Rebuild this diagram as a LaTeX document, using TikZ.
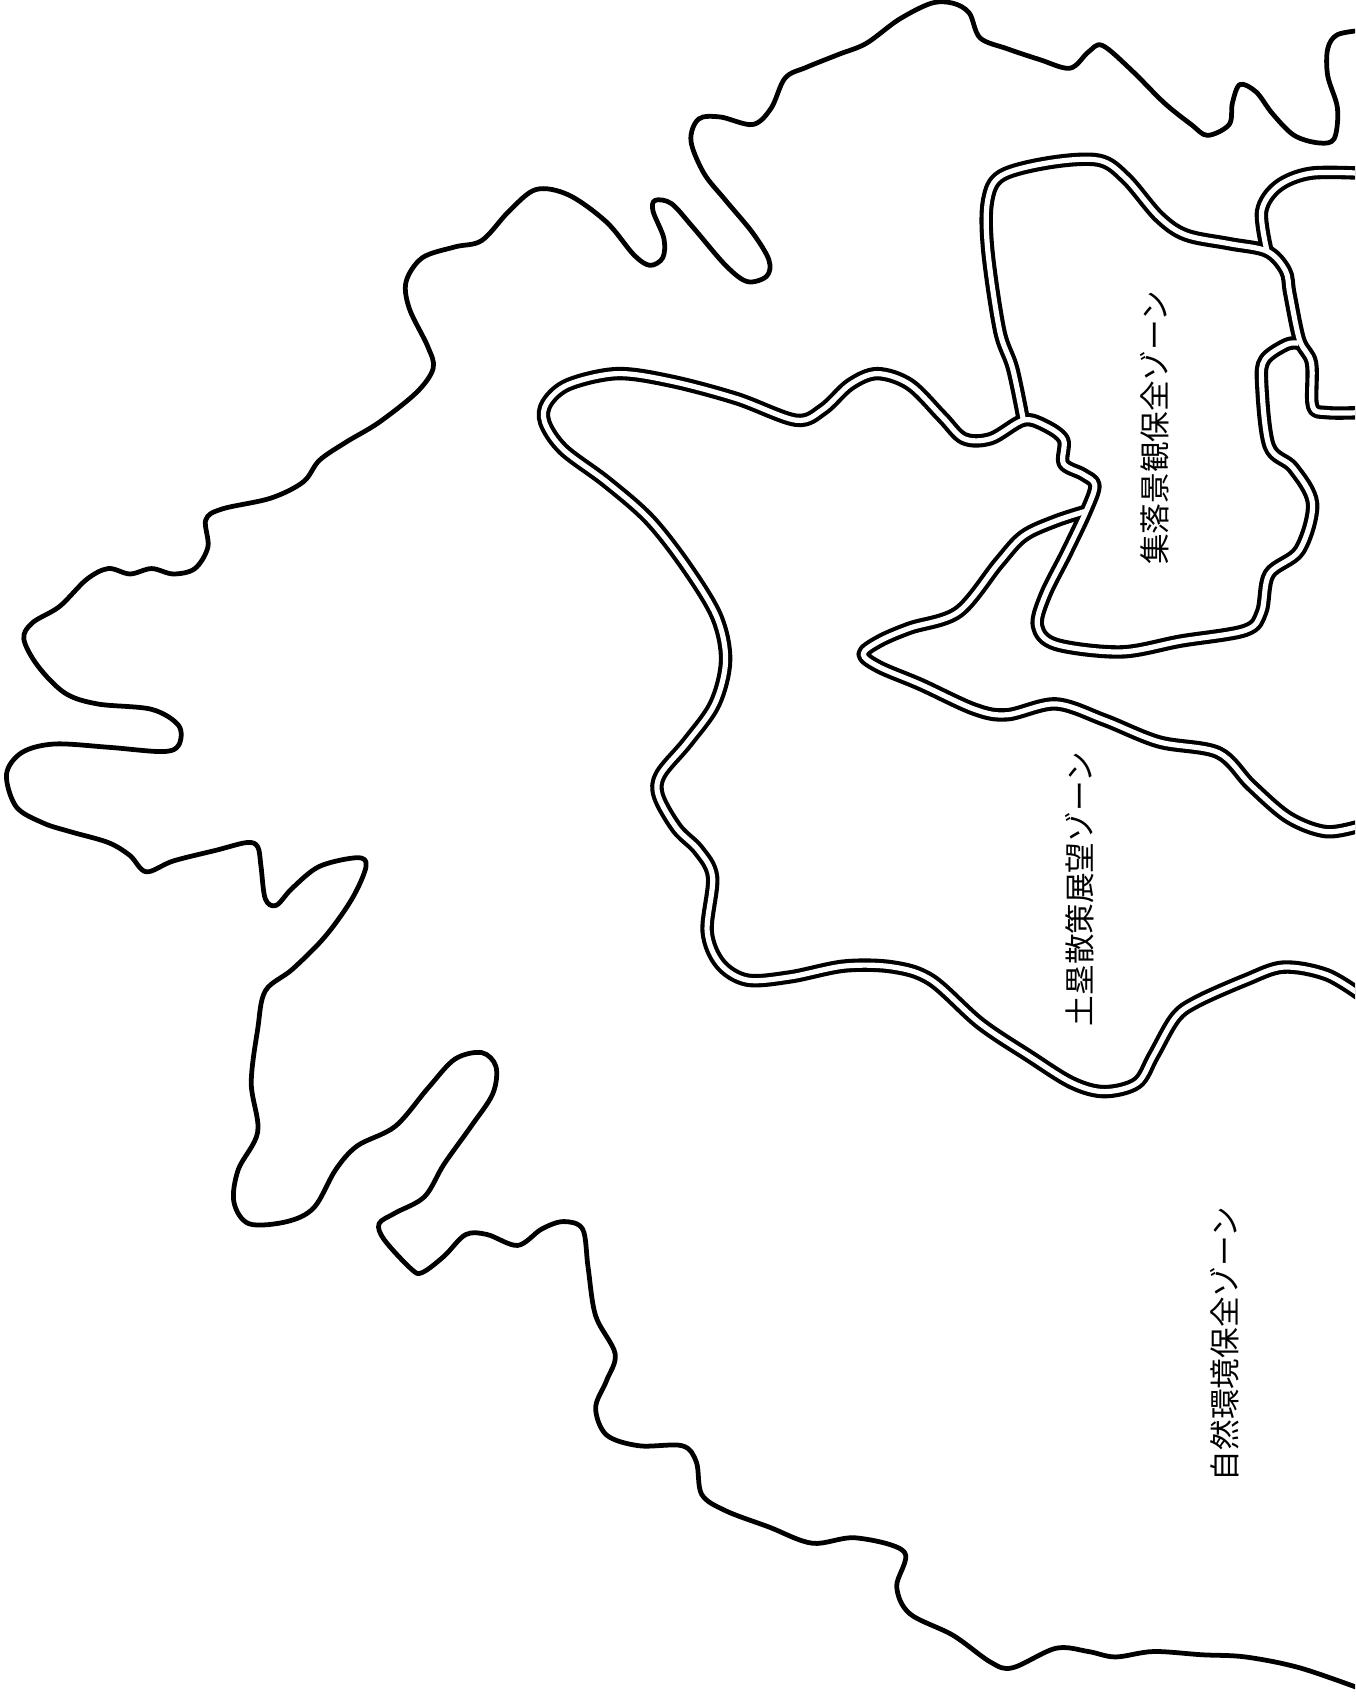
\documentclass[tikz,border=0pt]{standalone}
\usepackage{fontspec}
\newfontfamily\cjk{Noto Sans CJK JP}
\tikzset{
  coast/.style={draw=black,line width=4.4pt,line join=round,line cap=round},
  zoneblack/.style={draw=black,line width=12.4pt,line join=round,line cap=butt},
  zonewhite/.style={draw=white,line width=4.8pt,line join=round,line cap=butt},
  zonelabel/.style={rotate=90,font=\cjk\fontsize{28.3}{28.3}\selectfont,inner sep=0pt,text=black}
}
\newcommand{\zonelines}[1]{%
  % outer ridge of the terrace zone
  \draw[#1] plot[smooth,tension=0.55] coordinates {(1258,920)(1225,900)(1185,893)(1150,905)(1105,925)(1085,940)(1065,975)(1050,1000)(1020,1008)(990,1000)(950,975)(905,945)(860,905)(825,893)(780,892)(730,902)(690,905)(665,890)(653,860)(658,810)(645,785)(625,765)(608,735)(610,715)(635,685)(660,650)(670,610)(662,570)(635,525)(600,480)(560,445)(520,415)(503,390)(505,372)(525,355)(570,345)(620,352)(680,368)(735,388)(760,378)(785,355)(810,345)(840,355)(870,385)(890,405)(915,405)(945,388)(965,393)(982,406)(982,428)(1000,438)(1011,448)(1003,472)(985,510)(965,550)(958,578)(975,595)(1035,602)(1090,592)(1150,582)(1165,565)(1172,530)(1200,508)(1212,465)(1194,432)(1172,412)(1165,354)(1168,332)(1188,318)(1199,317)};
  % village zone upper boundary
  \draw[#1] plot[smooth,tension=0.55] coordinates {(945,388)(935,340)(923,305)(912,230)(912,185)(925,162)(970,150)(1015,148)(1040,165)(1070,200)(1095,217)(1135,225)(1170,232)(1187,250)(1191,271)(1200,314)(1211,335)(1212,375)(1225,381)(1258,381)};
  % top right branch
  \draw[#1] plot[smooth,tension=0.55] coordinates {(1258,160)(1210,160)(1180,172)(1165,195)(1170,232)};
  % spur
  \draw[#1] plot[smooth,tension=0.55] coordinates {(1003,472)(975,481)(945,495)(922,520)(885,565)(840,580)(812,592)(797,604)(812,616)(850,632)(900,655)(930,660)(975,650)(1020,665)(1070,685)(1125,695)(1155,725)(1190,755)(1225,768)(1258,762)};
}
\begin{document}
\begin{tikzpicture}[x=1pt,y=-1pt]
\useasboundingbox (0,0) rectangle (1251.2,1567);
\fill[white] (0,0) rectangle (1251.2,1567);
\begin{scope}
\clip (0,0) rectangle (1251.2,1567);
\draw[coast] plot[smooth,tension=0.55] coordinates {(1258,28)(1235,32)(1226,45)(1226,70)(1235,100)(1232,128)(1218,132)(1195,125)(1175,105)(1160,85)(1145,78)(1138,95)(1135,115)(1115,125)(1100,115)(1075,95)(1045,65)(1018,42)(1005,48)(988,63)(960,55)(930,45)(905,35)(895,12)(880,3)(860,3)(830,18)(800,40)(775,50)(745,62)(725,72)(712,100)(695,115)(665,108)(645,110)(638,130)(650,160)(670,185)(695,215)(710,240)(708,255)(690,260)(670,245)(640,210)(620,188)(605,185)(603,195)(613,220)(612,238)(600,245)(585,235)(560,205)(525,180)(495,175)(470,195)(445,222)(420,228)(390,238)(375,260)(378,285)(395,320)(400,340)(385,362)(350,390)(320,408)(295,425)(280,445)(250,460)(205,470)(190,480)(192,505)(180,525)(160,530)(140,525)(120,530)(100,525)(80,535)(55,560)(30,575)(22,590)(35,615)(60,640)(90,650)(140,655)(165,670)(165,688)(150,694)(100,690)(50,687)(20,695)(6,715)(15,745)(40,760)(65,768)(100,778)(120,790)(135,805)(160,795)(200,785)(228,778)(238,782)(241,800)(245,830)(255,836)(270,820)(295,800)(330,792)(338,800)(325,830)(300,865)(270,895)(245,915)(238,950)(232,1000)(238,1045)(220,1080)(216,1110)(230,1130)(265,1128)(290,1115)(310,1080)(330,1058)(365,1040)(395,1005)(420,978)(445,972)(458,985)(455,1010)(435,1040)(410,1075)(392,1105)(365,1120)(350,1130)(355,1145)(380,1172)(390,1175)(410,1160)(430,1140)(450,1140)(478,1150)(500,1135)(520,1128)(538,1135)(543,1170)(550,1215)(568,1250)(560,1275)(550,1300)(560,1325)(590,1335)(630,1335)(643,1350)(648,1380)(670,1395)(710,1410)(750,1425)(790,1420)(835,1433)(828,1465)(840,1490)(880,1510)(915,1535)(935,1540)(975,1522)(1005,1525)(1030,1530)(1065,1525)(1110,1528)(1150,1530)(1200,1540)(1258,1560)};
\zonelines{zoneblack}
\zonelines{zonewhite}
\end{scope}
\node[zonelabel] (village) at (1066,395) {集落景観保全ゾーン};
\node[zonelabel] (terrace) at (997,821) {土塁散策展望ゾーン};
\node[zonelabel] (nature) at (1131,1241) {自然環境保全ゾーン};
\end{tikzpicture}
\end{document}
